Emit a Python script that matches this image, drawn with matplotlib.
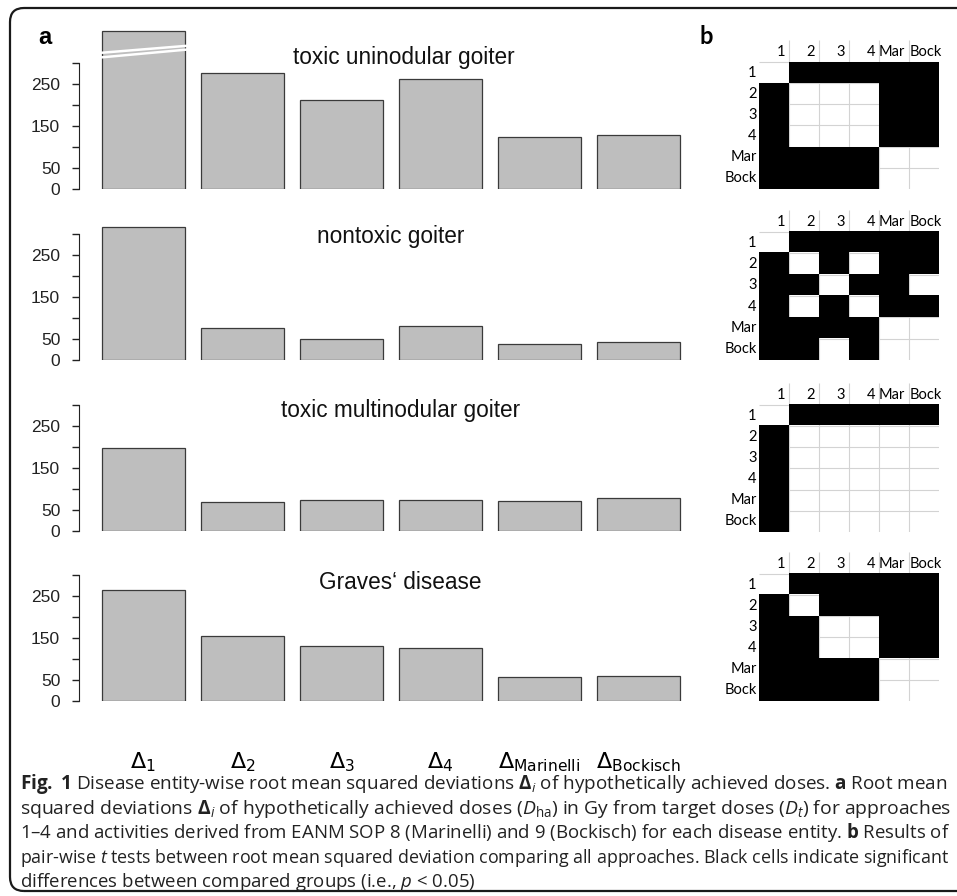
import numpy as np
import matplotlib
matplotlib.use('Agg')
import matplotlib.pyplot as plt
import matplotlib.transforms as mtransforms
from matplotlib.colors import ListedColormap
from matplotlib.patches import FancyBboxPatch

plt.rcParams['font.family'] = ['Liberation Sans', 'DejaVu Sans']
plt.rcParams['mathtext.fontset'] = 'custom'
plt.rcParams['mathtext.rm'] = 'Open Sans'
plt.rcParams['mathtext.it'] = 'Open Sans:italic'
plt.rcParams['mathtext.bf'] = 'Open Sans:bold'

# --- data -----------------------------------------------------------------
approaches = ['1', '2', '3', '4', 'Marinelli', 'Bockisch']
short_names = ['1', '2', '3', '4', 'Mar', 'Bock']
entities = ['toxic uninodular goiter', 'nontoxic goiter',
            'toxic multinodular goiter', 'Graves\u2018 disease']

# RMSD in Gy (first bar of toxic uninodular goiter is off scale, axis broken)
rmsd_tug = [376, 276, 212, 262, 124, 128]
rmsd_ntg = [317, 76, 50, 81, 38, 43]
rmsd_tmg = [198, 69, 74, 74, 71, 78]
rmsd_gd = [264, 155, 131, 126, 57, 60]

# pair-wise t tests, 1 = significant (p < 0.05)
sig_tug = [[0, 1, 1, 1, 1, 1],
           [1, 0, 0, 0, 1, 1],
           [1, 0, 0, 0, 1, 1],
           [1, 0, 0, 0, 1, 1],
           [1, 1, 1, 1, 0, 0],
           [1, 1, 1, 1, 0, 0]]
sig_ntg = [[0, 1, 1, 1, 1, 1],
           [1, 0, 1, 0, 1, 1],
           [1, 1, 0, 1, 1, 0],
           [1, 0, 1, 0, 1, 1],
           [1, 1, 1, 1, 0, 0],
           [1, 1, 0, 1, 0, 0]]
sig_tmg = [[0, 1, 1, 1, 1, 1],
           [1, 0, 0, 0, 0, 0],
           [1, 0, 0, 0, 0, 0],
           [1, 0, 0, 0, 0, 0],
           [1, 0, 0, 0, 0, 0],
           [1, 0, 0, 0, 0, 0]]
sig_gd = [[0, 1, 1, 1, 1, 1],
          [1, 0, 1, 1, 1, 1],
          [1, 1, 0, 0, 1, 1],
          [1, 1, 0, 0, 1, 1],
          [1, 1, 1, 1, 0, 0],
          [1, 1, 1, 1, 0, 0]]

y_ticks = [0, 50, 100, 150, 200, 250, 300]
y_ticklabels = ['0', '50', '', '150', '', '250', '']

rmsd_all = [rmsd_tug, rmsd_ntg, rmsd_tmg, rmsd_gd]
sig_all = [sig_tug, sig_ntg, sig_tmg, sig_gd]

# --- layout (pixels) ------------------------------------------------------
W, H = 957, 896
fig = plt.figure(figsize=(W / 100, H / 100), dpi=100)


def add_axes_px(x0, y0, x1, y1):
    return fig.add_axes([x0 / W, 1 - y1 / H, (x1 - x0) / W, (y1 - y0) / H])


px_per_gy = 0.42
ytop = 380
panel_bottoms = [189, 360, 531, 701]
title_y = [314, 293, 288, 281]
title_x = [0.52, 0.5, 0.515, 0.515]
grid_tops = [62, 232, 405, 574]
grid_bottoms = [189, 360, 532, 701]

bar_x = 0.7 + 1.2 * np.arange(len(approaches))

for k in range(4):
    yb = panel_bottoms[k]
    ax = add_axes_px(79, yb - ytop * px_per_gy, 703, yb)
    ax.patch.set_visible(False)
    ax.bar(bar_x, rmsd_all[k], width=1.0, color='#bebebe',
           edgecolor='#3a3a3a', linewidth=0.9)
    ax.set_xlim(-0.08, 7.48)
    ax.set_ylim(0, ytop)
    for s in ['top', 'right', 'bottom']:
        ax.spines[s].set_visible(False)
    ax.spines['left'].set_bounds(0, 300)
    ax.spines['left'].set_color('#222222')
    ax.set_yticks(y_ticks)
    ax.set_yticklabels(y_ticklabels)
    ax.tick_params(axis='y', length=5, width=1, color='#222222',
                   labelsize=12.5, pad=8.5, labelcolor='#222222')
    trans = mtransforms.blended_transform_factory(ax.transAxes, ax.transData)
    ax.text(title_x[k], title_y[k], entities[k], transform=trans, ha='center',
            va='center', fontsize=16.3, color='#111111')
    if k == 3:
        ax.set_xticks(bar_x)
        ax.set_xticklabels([r'$\Delta_{\mathrm{%s}}$' % a for a in approaches])
        ax.tick_params(axis='x', length=0, labelsize=16, pad=35.5)
        for lbl in ax.get_xticklabels():
            lbl.set_math_fontfamily('dejavusans')
    else:
        ax.set_xticks([])
    if k == 0:
        # axis break marks on the off-scale bar
        x0 = bar_x[0] - 0.53
        x1 = bar_x[0] + 0.53
        ax.plot([x0, x1], [324, 341], color='white', lw=1.8, clip_on=False)
        ax.plot([x0, x1], [313, 332], color='white', lw=1.8, clip_on=False)

    # significance matrix
    gt, gbot = grid_tops[k], grid_bottoms[k]
    rowh = (gbot - gt) / 6
    head = 1.05
    axm = add_axes_px(759, gt - head * rowh, 939, gbot)
    axm.axis('off')
    mat = np.ma.masked_equal(np.array(sig_all[k]), 0)
    axm.vlines(np.arange(1, 6), -head, 6, color='#d3d3d3', lw=0.8, zorder=1)
    axm.hlines(np.arange(0, 6), 0, 6, color='#d3d3d3', lw=0.8, zorder=1)
    axm.imshow(mat, cmap=ListedColormap(['black']), extent=(0, 6, 6, 0),
               aspect='auto', interpolation='nearest', zorder=2)
    axm.set_xlim(0, 6)
    axm.set_ylim(6, -head)
    for j, name in enumerate(short_names):
        if j < 5:
            axm.text(j + 0.87, -0.48, name, ha='right', va='center',
                     fontsize=10.5, family='Lato', clip_on=False)
        else:
            axm.text(j + 0.01, -0.48, name, ha='left', va='center',
                     fontsize=10.5, family='Lato', clip_on=False)
        axm.text(-0.08, j + 0.5, name, ha='right', va='center',
                 fontsize=10.5, family='Lato', clip_on=False)

fig.text(45 / W, 1 - 37 / H, 'a', fontsize=17, fontweight='bold',
         ha='center', va='center')
fig.text(706 / W, 1 - 37 / H, 'b', fontsize=17, fontweight='bold',
         family='Lato', ha='center', va='center')

# rounded frame around the figure
frame = FancyBboxPatch((10, 5), 990, 883,
                       boxstyle='round,pad=0,rounding_size=14',
                       transform=None, fill=False, lw=1.6,
                       edgecolor='#1a1a1a')
fig.add_artist(frame)

caption = [
    r'$\mathbf{Fig.}$ $\mathbf{1}$ Disease entity-wise root mean squared deviations '
    r'$\mathbf{\Delta}_{i}$ of hypothetically achieved doses. $\mathbf{a}$ Root mean',
    r'squared deviations $\mathbf{\Delta}_{i}$ of hypothetically achieved doses '
    r'($D_{\mathrm{ha}}$) in Gy from target doses ($D_{t}$) for approaches',
    '1\u20134 and activities derived from EANM SOP 8 (Marinelli) and 9 '
    r'(Bockisch) for each disease entity. $\mathbf{b}$ Results of',
    r'pair-wise $t$ tests between root mean squared deviation comparing all '
    'approaches. Black cells indicate significant',
    r'differences between compared groups (i.e., $p$ < 0.05)',
]
cap_texts = []
for i, line in enumerate(caption):
    t = fig.text(20 / W, 1 - (789 + 24.5 * i) / H, line, family='Open Sans',
                 fontsize=12.5, ha='left', va='baseline', color='#222222')
    cap_texts.append(t)

# stretch the full caption lines to the justified width of the reference
fig.canvas.draw()
renderer = fig.canvas.get_renderer()
sizes = []
for t in cap_texts[:4]:
    w = t.get_window_extent(renderer).width
    t.set_fontsize(t.get_fontsize() * 930 / w)
    sizes.append(t.get_fontsize())
cap_texts[4].set_fontsize(np.mean(sizes))

fig.savefig('out.png', dpi=100)
